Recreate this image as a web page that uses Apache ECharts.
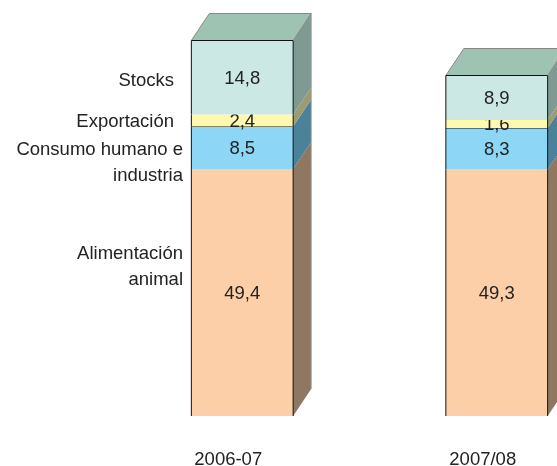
<!DOCTYPE html>
<html>
<head>
<meta charset="utf-8">
<script src="https://cdn.jsdelivr.net/npm/echarts@6/dist/echarts.min.js"></script>
<style>
  html, body { margin: 0; padding: 0; background: #fff; }
  #chart { width: 557px; height: 466px; }
</style>
</head>
<body>
<div id="chart"></div>
<script>
// datos
var campanas = ['2006-07', '2007/08'];
var alimentacion = [49.4, 49.3];
var consumo = [8.5, 8.3];
var exportacion = [2.4, 1.6];
var stocks = [14.8, 8.9];

// colores: frente, lateral
var capas = [
  { nombre: 'Alimentación animal', valores: alimentacion, frente: '#FDCFA8', lado: '#8E7862' },
  { nombre: 'Consumo humano e industria', valores: consumo, frente: '#8DD6F6', lado: '#4B8199' },
  { nombre: 'Exportación', valores: exportacion, frente: '#FFF9B0', lado: '#9C9C72' },
  { nombre: 'Stocks', valores: stocks, frente: '#CCE8E5', lado: '#7F9A92' }
];

var DX = 18, DY = 27;
var FUENTE = '18.5px "Liberation Sans", Arial, sans-serif';
var myChart = echarts.init(document.getElementById('chart'));

function fmt(v) {
  return String(v).replace('.', ',');
}

var series = capas.map(function (capa, k) {
  var datos = campanas.map(function (c, i) {
    var base = 0;
    for (var j = 0; j < k; j++) base += capas[j].valores[i];
    return [i, base, capa.valores[i]];
  });
  var esTope = k === capas.length - 1;
  return {
    type: 'custom',
    name: capa.nombre,
    data: datos,
    renderItem: function (params, api) {
      var i = api.value(0);
      var base = api.value(1);
      var val = api.value(2);
      var p0 = api.coord([i, base]);
      var p1 = api.coord([i, base + val]);
      var w = api.size([1, 0])[0] * 0.4;
      var x0 = p0[0] - w / 2, x1 = p0[0] + w / 2;
      var yb = p0[1], yt = p1[1];
      var hijos = [
        { type: 'rect', shape: { x: x0, y: yt, width: w, height: yb - yt }, style: { fill: capa.frente } },
        { type: 'polygon', shape: { points: [[x1, yb], [x1, yt], [x1 + DX, yt - DY], [x1 + DX, yb - DY]] },
          style: { fill: capa.lado } },
        { type: 'line', shape: { x1: x0, y1: yb, x2: x0, y2: yt }, style: { stroke: '#111', lineWidth: 1 } },
        { type: 'line', shape: { x1: x1, y1: yb, x2: x1, y2: yt }, style: { stroke: '#111', lineWidth: 1 } },
        { type: 'line', shape: { x1: x1 + DX, y1: yb - DY, x2: x1 + DX, y2: yt - DY }, style: { stroke: '#999', lineWidth: 1 } }
      ];
      if (k === 1) {
        hijos.push({ type: 'line', shape: { x1: x0, y1: yt, x2: x1, y2: yt }, style: { stroke: '#111', lineWidth: 1 } });
      }
      if (esTope) {
        hijos.push({ type: 'polygon', shape: { points: [[x0, yt], [x1, yt], [x1 + DX, yt - DY], [x0 + DX, yt - DY]] },
          style: { fill: '#9EC3B3', stroke: '#888', lineWidth: 1 } });
        hijos.push({ type: 'line', shape: { x1: x0, y1: yt, x2: x1, y2: yt }, style: { stroke: '#111', lineWidth: 1 } });
      }
      hijos.push({
        type: 'text',
        style: {
          text: fmt(val), x: (x0 + x1) / 2, y: (yt + yb) / 2 + 1,
          align: 'center', verticalAlign: 'middle',
          fill: '#222', font: FUENTE
        }
      });
      return { type: 'group', children: hijos };
    }
  };
});

function etiqueta(texto, x, y) {
  return {
    type: 'text', x: x, y: y,
    style: { text: texto, fill: '#222', font: FUENTE, align: 'right', verticalAlign: 'middle', lineHeight: 26 }
  };
}

var option = {
  animation: false,
  backgroundColor: '#fff',
  grid: { left: 115, top: 16, width: 509, height: 400, outerBoundsMode: 'none', containLabel: false },
  xAxis: {
    type: 'category',
    data: campanas,
    axisLine: { show: false },
    axisTick: { show: false },
    axisLabel: {
      margin: 34, color: '#222', fontSize: 18.5, fontFamily: '"Liberation Sans", Arial, sans-serif',
      padding: [0, 28, 0, 0]
    }
  },
  yAxis: {
    type: 'value', min: 0, max: 80, show: false, splitLine: { show: false }
  },
  graphic: [
    etiqueta('Stocks', 174, 81),
    etiqueta('Exportación', 174, 122),
    etiqueta('Consumo humano e\nindustria', 183, 163),
    etiqueta('Alimentación\nanimal', 183, 267)
  ],
  series: series
};
myChart.setOption(option);
</script>
</body>
</html>
